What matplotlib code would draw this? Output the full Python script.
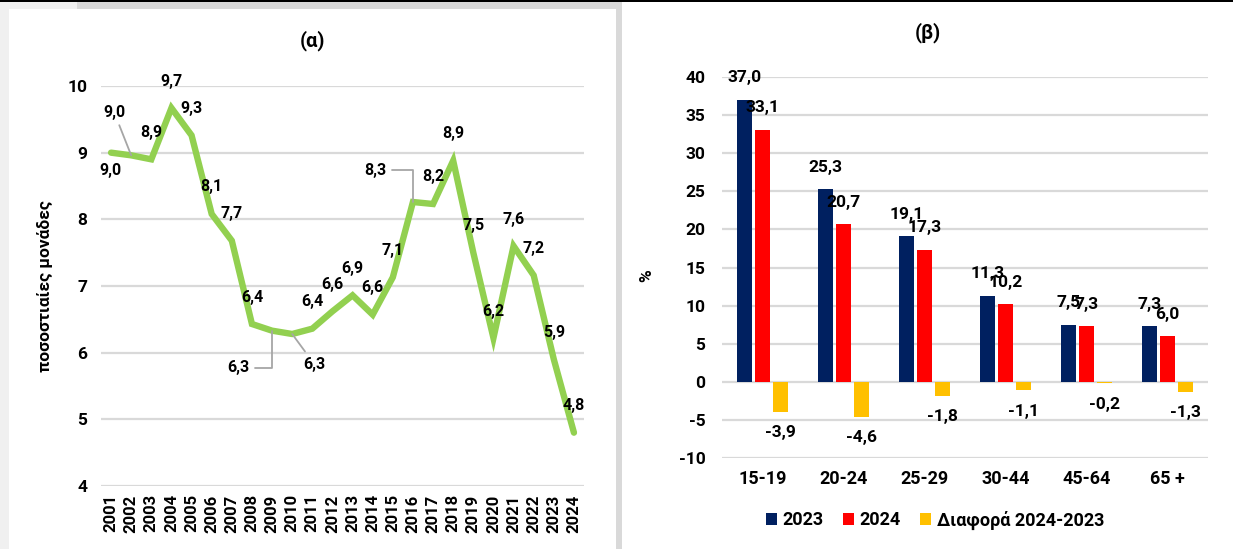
import numpy as np
import matplotlib
matplotlib.use("Agg")
import matplotlib.pyplot as plt
from matplotlib.patches import Rectangle

plt.rcParams['font.family'] = ['Roboto', 'DejaVu Sans']
plt.rcParams['axes.unicode_minus'] = False

# (α) ποσοστιαίες μονάδες ανά έτος
years = list(range(2001, 2025))
values = [9.0, 8.96, 8.9, 9.67, 9.26, 8.08, 7.68, 6.43, 6.33, 6.28, 6.36, 6.62,
          6.86, 6.57, 7.13, 8.26, 8.23, 8.88, 7.5, 6.22, 7.6, 7.16, 5.9, 4.8]

# (β) ανά ηλικιακή ομάδα
groups = ['15-19', '20-24', '25-29', '30-44', '45-64', '65 +']
v2023 = [37.0, 25.3, 19.1, 11.3, 7.5, 7.3]
v2024 = [33.1, 20.7, 17.3, 10.2, 7.3, 6.0]
diff = [-3.9, -4.6, -1.8, -1.1, -0.2, -1.3]

GREEN = '#92D050'
NAVY = '#002060'
RED = '#FF0000'
GOLD = '#FFC000'
GRID = '#d9d9d9'
LEAD = '#a6a6a6'

W, H = 1233, 549
fig = plt.figure(figsize=(W / 100, H / 100), dpi=100)
fig.patch.set_facecolor('white')

def px(x0, y0, x1, y1):
    # pixel box (top-left origin) -> figure fraction rect
    return [x0 / W, 1 - y1 / H, (x1 - x0) / W, (y1 - y0) / H]

def frame(x0, y0, x1, y1, color):
    r = px(x0, y0, x1, y1)
    fig.patches.append(Rectangle((r[0], r[1]), r[2], r[3], transform=fig.transFigure,
                                 facecolor=color, edgecolor='none', zorder=0))

frame(0, 0, W, 2, 'black')
frame(0, 2, 9, H, '#f0f0f0')
frame(0, 2, 77, 9, '#f0f0f0')
frame(77, 2, 622, 9, '#d9d9d9')
frame(616, 2, 622, H, '#d9d9d9')

# ---------- (α) ----------
ax1 = fig.add_axes(px(101, 86, 584, 486))
ax1.plot(years, values, color=GREEN, lw=4.6, solid_capstyle='round',
         solid_joinstyle='miter', zorder=3)
ax1.set_xlim(2000.5, 2024.5)
ax1.set_ylim(4, 10)
ax1.set_yticks(range(4, 11))
ax1.set_xticks(years)
ax1.set_xticklabels([str(y) for y in years], rotation=90, fontsize=12, fontweight='bold')
ax1.tick_params(axis='y', labelsize=12.5, length=0, pad=10)
ax1.tick_params(axis='x', length=0, pad=6)
for t in ax1.get_yticklabels():
    t.set_fontweight('bold')
ax1.grid(axis='y', color=GRID, lw=1.6)
ax1.set_axisbelow(True)
for s in ax1.spines.values():
    s.set_visible(False)
ax1.set_ylabel('ποσοστιαίες μονάδες', fontsize=12.5, fontweight='bold')
ax1.yaxis.set_label_coords(-0.10, 0.5)

special = {
    2001: ((-1, -18), None),
    2002: ((-17, 43), 'arc3'),
    2009: ((-34, -37), 'angle,angleA=0,angleB=90,rad=0'),
    2010: ((22, -30), 'arc3'),
    2016: ((-38, 32), 'angle,angleA=0,angleB=90,rad=0'),
}
for y, v in zip(years, values):
    off, conn = special.get(y, ((0, 27), None))
    lab = f'{v:.1f}'.replace('.', ',')
    if conn:
        ax1.annotate(lab, (y, v), xytext=off, textcoords='offset pixels',
                     ha='center', va='center', fontsize=11.5, fontweight='bold',
                     arrowprops=dict(arrowstyle='-', color=LEAD, lw=1.3,
                                     connectionstyle=conn, shrinkA=2, shrinkB=0))
    else:
        ax1.annotate(lab, (y, v), xytext=off, textcoords='offset pixels',
                     ha='center', va='center', fontsize=11.5, fontweight='bold')

fig.text(312 / W, 1 - 41 / H, '(α)', ha='center', va='center', fontsize=14.5, fontweight='bold')

# ---------- (β) ----------
ax2 = fig.add_axes(px(722, 77, 1208, 458))
x = np.arange(len(groups))
step, bw = 0.222, 0.175
series = [(v2023, NAVY, '2023', -step), (v2024, RED, '2024', 0.0),
          (diff, GOLD, 'Διαφορά 2024-2023', step)]
for vals, col, name, dx in series:
    ax2.bar(x + dx, vals, width=bw, color=col, label=name, zorder=3)
    for xi, v in zip(x + dx, vals):
        ax2.annotate(f'{v:.1f}'.replace('.', ','), (xi, v),
                     xytext=(0, 22 if v >= 0 else -21), textcoords='offset pixels',
                     ha='center', va='center', fontsize=12.5, fontweight='bold', zorder=5)
ax2.set_xlim(-0.5, len(groups) - 0.5)
ax2.set_ylim(-10, 40)
ax2.set_yticks(range(-10, 41, 5))
ax2.set_xticks(x)
ax2.set_xticklabels(groups, fontsize=13, fontweight='bold')
for t in ax2.get_yticklabels():
    t.set_fontweight('bold')
ax2.tick_params(axis='y', labelsize=12.5, length=0, pad=12)
ax2.tick_params(axis='x', length=0, pad=9)
ax2.grid(axis='y', color=GRID, lw=1.6)
ax2.set_axisbelow(True)
for s in ax2.spines.values():
    s.set_visible(False)
ax2.set_ylabel('%', fontsize=12.5, fontweight='bold')
ax2.yaxis.set_label_coords((654 - 722) / (1208 - 722), (458 - 276) / (458 - 77))

fig.legend(loc='center', bbox_to_anchor=(935 / W, 1 - 520 / H), ncol=3, frameon=False,
           handlelength=0.6, handleheight=0.6, handletextpad=0.3, columnspacing=1.1,
           prop={'size': 13, 'weight': 'bold'})

fig.text(928 / W, 1 - 33 / H, '(β)', ha='center', va='center', fontsize=14.5, fontweight='bold')

fig.savefig('out.png', dpi=100, facecolor='white')
